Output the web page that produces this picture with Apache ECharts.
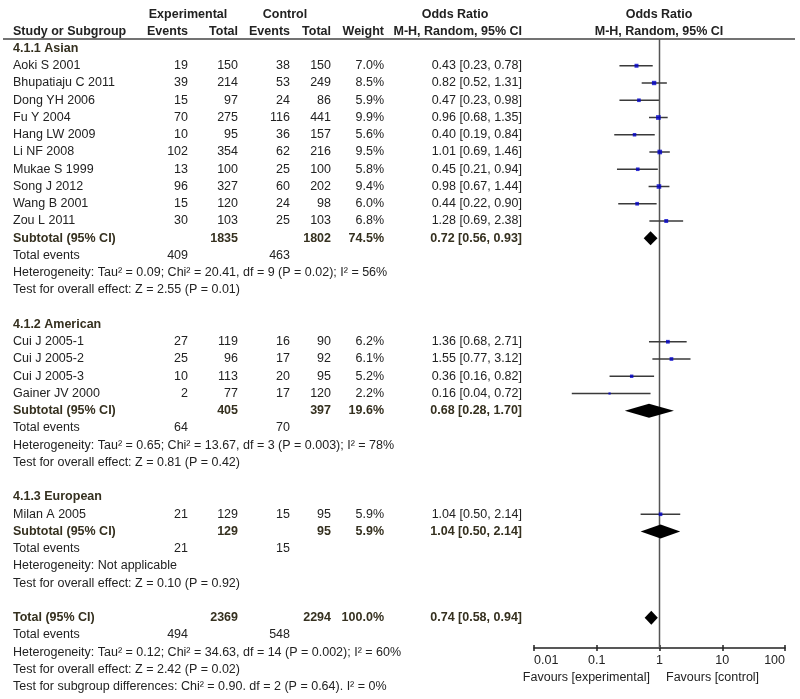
<!DOCTYPE html>
<html>
<head>
<meta charset="utf-8">
<script src="https://cdn.jsdelivr.net/npm/echarts@6/dist/echarts.min.js"></script>
<style>
html,body{margin:0;padding:0;background:#fff;}
#main{width:800px;height:699px;}
</style>
</head>
<body>
<div id="main"></div>
<script>
// ---------------- data ----------------
const groupNames = ['4.1.1 Asian', '4.1.2 American', '4.1.3 European'];
const groupSizes = [10, 4, 1];
const studyNames = ['Aoki S 2001', 'Bhupatiaju C 2011', 'Dong YH 2006', 'Fu Y 2004', 'Hang LW 2009', 'Li NF 2008', 'Mukae S 1999', 'Song J 2012', 'Wang B 2001', 'Zou L 2011',
  'Cui J 2005-1', 'Cui J 2005-2', 'Cui J 2005-3', 'Gainer JV 2000',
  'Milan A 2005'];
const expEvents = [19, 39, 15, 70, 10, 102, 13, 96, 15, 30, 27, 25, 10, 2, 21];
const expTotals = [150, 214, 97, 275, 95, 354, 100, 327, 120, 103, 119, 96, 113, 77, 129];
const ctrlEvents = [38, 53, 24, 116, 36, 62, 25, 60, 24, 25, 16, 17, 20, 17, 15];
const ctrlTotals = [150, 249, 86, 441, 157, 216, 100, 202, 98, 103, 90, 92, 95, 120, 95];
const weights = [7.0, 8.5, 5.9, 9.9, 5.6, 9.5, 5.8, 9.4, 6.0, 6.8, 6.2, 6.1, 5.2, 2.2, 5.9];
const oddsRatios = [0.43, 0.82, 0.47, 0.96, 0.40, 1.01, 0.45, 0.98, 0.44, 1.28, 1.36, 1.55, 0.36, 0.16, 1.04];
const ciLower = [0.23, 0.52, 0.23, 0.68, 0.19, 0.69, 0.21, 0.67, 0.22, 0.69, 0.68, 0.77, 0.16, 0.04, 0.50];
const ciUpper = [0.78, 1.31, 0.98, 1.35, 0.84, 1.46, 0.94, 1.44, 0.90, 2.38, 2.71, 3.12, 0.82, 0.72, 2.14];

const subExpTotals = [1835, 405, 129];
const subCtrlTotals = [1802, 397, 95];
const subWeights = [74.5, 19.6, 5.9];
const subExpEvents = [409, 64, 21];
const subCtrlEvents = [463, 70, 15];
const subOR = [0.72, 0.68, 1.04];
const subLower = [0.56, 0.28, 0.50];
const subUpper = [0.93, 1.70, 2.14];
const subHeterogeneity = [
  'Heterogeneity: Tau\u00b2 = 0.09; Chi\u00b2 = 20.41, df = 9 (P = 0.02); I\u00b2 = 56%',
  'Heterogeneity: Tau\u00b2 = 0.65; Chi\u00b2 = 13.67, df = 3 (P = 0.003); I\u00b2 = 78%',
  'Heterogeneity: Not applicable'];
const subOverallEffect = [
  'Test for overall effect: Z = 2.55 (P = 0.01)',
  'Test for overall effect: Z = 0.81 (P = 0.42)',
  'Test for overall effect: Z = 0.10 (P = 0.92)'];

const totalExpTotal = 2369, totalCtrlTotal = 2294, totalWeight = 100.0;
const totalExpEvents = 494, totalCtrlEvents = 548;
const totalOR = 0.74, totalLower = 0.58, totalUpper = 0.94;
const totalHeterogeneity = 'Heterogeneity: Tau\u00b2 = 0.12; Chi\u00b2 = 34.63, df = 14 (P = 0.002); I\u00b2 = 60%';
const totalOverallEffect = 'Test for overall effect: Z = 2.42 (P = 0.02)';
const subgroupDifferences = 'Test for subgroup differences: Chi\u00b2 = 0.90. df = 2 (P = 0.64). I\u00b2 = 0%';

const nullEffect = 1;
const tickLabels = ['0.01', '0.1', '1', '10', '100'];
const favoursLeft = 'Favours [experimental]';
const favoursRight = 'Favours [control]';

// ---------------- layout ----------------
const GRID_TOP = 39, GRID_BOTTOM_Y = 648, GRID_LEFT = 534, GRID_RIGHT = 15;
const ROW0 = 48.5, ROW_H = 17.25;
const Y_MIN = (GRID_TOP - ROW0) / ROW_H;
const Y_MAX = (GRID_BOTTOM_Y - ROW0) / ROW_H;
function yOf(r) { return ROW0 + r * ROW_H; }

const FONT = '"Liberation Sans", Arial, sans-serif';
const FS = '12.5px ';
const TXT = '#222';
const BOLD_TXT = '#35301f';

const COL = { name: 13, expEv: 188, expTot: 238, ctlEv: 290, ctlTot: 331, weight: 384, or: 522 };

const graphics = [];
function txt(s, x, y, align, bold, color) {
  graphics.push({
    type: 'text', silent: true,
    style: { text: String(s), x: x, y: y, textAlign: align || 'left', textVerticalAlign: 'middle',
      font: (bold ? 'bold ' : '') + FS + FONT, fill: color || (bold ? BOLD_TXT : TXT) }
  });
}
function fmtOR(o, l, h) { return o.toFixed(2) + ' [' + l.toFixed(2) + ', ' + h.toFixed(2) + ']'; }

// headers
txt('Experimental', 188, 15, 'center', true, TXT);
txt('Control', 285, 15, 'center', true, TXT);
txt('Odds Ratio', 455, 15, 'center', true, TXT);
txt('Odds Ratio', 659, 15, 'center', true, TXT);
txt('Study or Subgroup', COL.name, 32, 'left', true, TXT);
txt('Events', COL.expEv, 32, 'right', true, TXT);
txt('Total', COL.expTot, 32, 'right', true, TXT);
txt('Events', COL.ctlEv, 32, 'right', true, TXT);
txt('Total', COL.ctlTot, 32, 'right', true, TXT);
txt('Weight', COL.weight, 32, 'right', true, TXT);
txt('M-H, Random, 95% CI', COL.or, 32, 'right', true, TXT);
txt('M-H, Random, 95% CI', 659, 32, 'center', true, TXT);
graphics.push({ type: 'line', silent: true, shape: { x1: 3, y1: 39, x2: 795, y2: 39 }, style: { stroke: '#444', lineWidth: 1.5 } });

const studyPoints = [];   // [or, row, weight]
const studyCI = [];       // [lo, row, hi]
const diamonds = [];      // [lo, row, hi, or]

let r = 0, s = 0;
for (let g = 0; g < groupNames.length; g++) {
  txt(groupNames[g], COL.name, yOf(r), 'left', true);
  r++;
  for (let k = 0; k < groupSizes[g]; k++, s++, r++) {
    const y = yOf(r);
    txt(studyNames[s], COL.name, y, 'left');
    txt(expEvents[s], COL.expEv, y, 'right');
    txt(expTotals[s], COL.expTot, y, 'right');
    txt(ctrlEvents[s], COL.ctlEv, y, 'right');
    txt(ctrlTotals[s], COL.ctlTot, y, 'right');
    txt(weights[s].toFixed(1) + '%', COL.weight, y, 'right');
    txt(fmtOR(oddsRatios[s], ciLower[s], ciUpper[s]), COL.or, y, 'right');
    studyPoints.push([oddsRatios[s], r, weights[s]]);
    studyCI.push([ciLower[s], r, ciUpper[s]]);
  }
  let y = yOf(r);
  txt('Subtotal (95% CI)', COL.name, y, 'left', true);
  txt(subExpTotals[g], COL.expTot, y, 'right', true);
  txt(subCtrlTotals[g], COL.ctlTot, y, 'right', true);
  txt(subWeights[g].toFixed(1) + '%', COL.weight, y, 'right', true);
  txt(fmtOR(subOR[g], subLower[g], subUpper[g]), COL.or, y, 'right', true);
  diamonds.push([subLower[g], r, subUpper[g], subOR[g]]);
  r++;
  y = yOf(r);
  txt('Total events', COL.name, y, 'left');
  txt(subExpEvents[g], COL.expEv, y, 'right');
  txt(subCtrlEvents[g], COL.ctlEv, y, 'right');
  r++;
  txt(subHeterogeneity[g], COL.name, yOf(r), 'left'); r++;
  txt(subOverallEffect[g], COL.name, yOf(r), 'left'); r++;
  r++; // blank
}
let y = yOf(r);
txt('Total (95% CI)', COL.name, y, 'left', true);
txt(totalExpTotal, COL.expTot, y, 'right', true);
txt(totalCtrlTotal, COL.ctlTot, y, 'right', true);
txt(totalWeight.toFixed(1) + '%', COL.weight, y, 'right', true);
txt(fmtOR(totalOR, totalLower, totalUpper), COL.or, y, 'right', true);
diamonds.push([totalLower, r, totalUpper, totalOR]);
r++;
y = yOf(r);
txt('Total events', COL.name, y, 'left');
txt(totalExpEvents, COL.expEv, y, 'right');
txt(totalCtrlEvents, COL.ctlEv, y, 'right');
r++;
txt(totalHeterogeneity, COL.name, yOf(r), 'left'); r++;
txt(totalOverallEffect, COL.name, yOf(r), 'left'); r++;
txt(subgroupDifferences, COL.name, yOf(r), 'left');

txt(favoursLeft, 650, 678, 'right');
txt(favoursRight, 666, 678, 'left');

// ---------------- chart ----------------
const chart = echarts.init(document.getElementById('main'), null, { renderer: 'canvas' });
const xBase = { type: 'log', logBase: 10, min: 0.01, max: 100, splitLine: { show: false }, minorTick: { show: false }, position: 'bottom' };
chart.setOption({
  animation: false,
  backgroundColor: '#fff',
  grid: [
    { left: GRID_LEFT, right: GRID_RIGHT, top: GRID_TOP, height: GRID_BOTTOM_Y - GRID_TOP },
    { left: GRID_LEFT, right: GRID_RIGHT, top: GRID_BOTTOM_Y - 10, height: 10 }
  ],
  xAxis: [
    Object.assign({}, xBase, {
      gridIndex: 0,
      axisLine: { show: true, onZero: false, lineStyle: { color: '#222', width: 1.5 } },
      axisTick: { show: true, length: 3, inside: false, lineStyle: { color: '#222', width: 1.5 } },
      axisLabel: {
        show: true, margin: 6, color: TXT, fontSize: 12.5, fontFamily: FONT,
        alignMinLabel: 'left', alignMaxLabel: 'right',
        formatter: function (v) {
          const e = Math.round(Math.log10(v)) + 2;
          return tickLabels[e] !== undefined ? tickLabels[e] : '';
        }
      }
    }),
    Object.assign({}, xBase, {
      gridIndex: 1,
      axisLine: { show: false, onZero: false },
      axisTick: { show: true, length: 3, inside: true, lineStyle: { color: '#222', width: 1.5 } },
      axisLabel: { show: false }
    })
  ],
  yAxis: [
    { gridIndex: 0, type: 'value', inverse: true, min: Y_MIN, max: Y_MAX, show: false },
    { gridIndex: 1, type: 'value', min: 0, max: 1, show: false }
  ],
  series: [
    {
      type: 'line', name: 'null', silent: true, xAxisIndex: 0, yAxisIndex: 0,
      data: [[nullEffect, Y_MIN], [nullEffect, Y_MAX]],
      showSymbol: false, symbol: 'none',
      lineStyle: { color: '#555', width: 1.5 },
      z: 1
    },
    {
      type: 'custom', name: 'ci', silent: true, xAxisIndex: 0, yAxisIndex: 0,
      data: studyCI,
      encode: { x: [0, 2], y: 1 },
      renderItem: function (params, api) {
        const p1 = api.coord([api.value(0), api.value(1)]);
        const p2 = api.coord([api.value(2), api.value(1)]);
        return { type: 'line', shape: { x1: p1[0], y1: p1[1], x2: p2[0], y2: p2[1] }, style: { stroke: '#3a3a3a', lineWidth: 1.5 } };
      },
      z: 2
    },
    {
      type: 'scatter', name: 'study', silent: true, xAxisIndex: 0, yAxisIndex: 0,
      data: studyPoints,
      symbol: 'rect',
      symbolSize: function (v) { return 1.5 * Math.sqrt(v[2]); },
      itemStyle: { color: '#0000c8' },
      z: 3
    },
    {
      type: 'custom', name: 'diamond', silent: true, xAxisIndex: 0, yAxisIndex: 0,
      data: diamonds,
      encode: { x: [0, 2, 3], y: 1 },
      renderItem: function (params, api) {
        const row = api.value(1);
        const pl = api.coord([api.value(0), row]);
        const ph = api.coord([api.value(2), row]);
        const pc = api.coord([api.value(3), row]);
        const hh = 7;
        return { type: 'polygon', shape: { points: [[pl[0], pl[1]], [pc[0], pc[1] - hh], [ph[0], ph[1]], [pc[0], pc[1] + hh]] }, style: { fill: '#000' } };
      },
      z: 4
    }
  ],
  graphic: graphics
});
</script>
</body>
</html>
